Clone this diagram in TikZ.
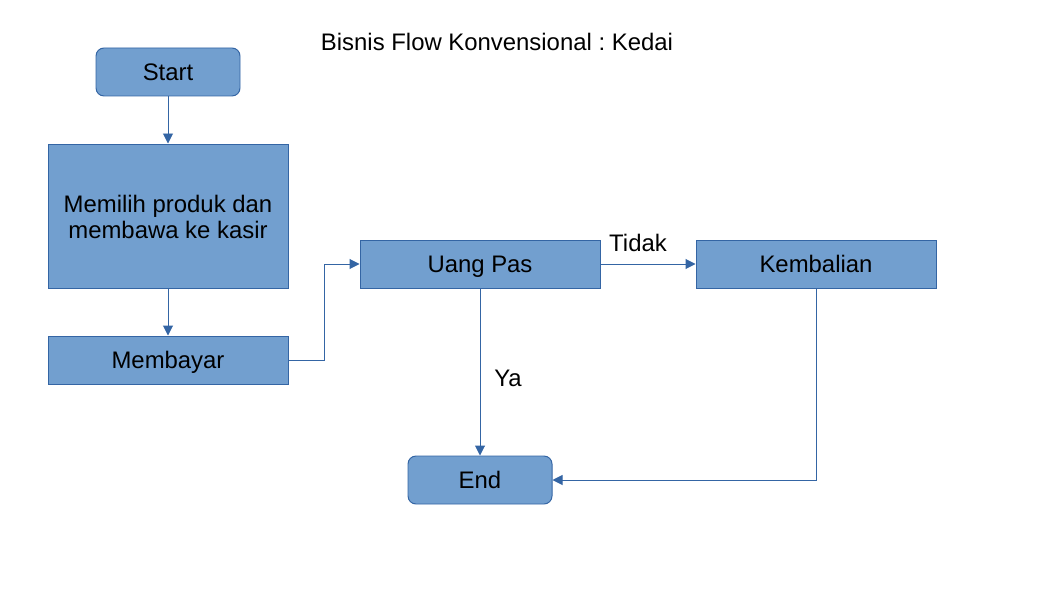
\documentclass[tikz,border=0pt]{standalone}
\usepackage{fontspec}
\setmainfont{Liberation Sans}
\usetikzlibrary{positioning}
\usetikzlibrary{arrows.meta}
\definecolor{kotak}{RGB}{114,159,207}
\definecolor{garis}{RGB}{52,101,164}
\frenchspacing

\begin{document}
\begin{tikzpicture}[
    font=\fontsize{17}{18.5}\selectfont,
    proses/.style={draw=garis, fill=kotak, line width=0.7pt, inner sep=0pt,
                   minimum width=6cm, minimum height=1.2cm, align=center,
                   text height=14pt, text depth=2.6pt},
    terminal/.style={proses, rounded corners=0.2cm, minimum width=3.6cm},
    alur/.style={draw=garis, line width=0.7pt, -{Triangle[length=0.25cm,width=0.25cm]}}
  ]

%---------------------------------------
% Canvas
%---------------------------------------
\useasboundingbox (0,0) rectangle (26.45,-14.875);

\node (judul) at (12.425,-1.05) {Bisnis Flow Konvensional : Kedai};

%---------------------------------------
% Boxes
%---------------------------------------
\node[terminal] (start)   at (4.2,-1.8)  {Start};
\node[proses, minimum height=3.6cm, text height=34pt] (pilih) at (4.2,-5.4)
      {Memilih produk dan\\membawa ke kasir};
\node[proses]   (bayar)   at (4.2,-9.0)  {Membayar};
\node[proses]   (uang)    at (12,-6.6)   {Uang Pas};
\node[proses]   (kembali) at (20.4,-6.6) {Kembalian};
\node[terminal] (selesai) at (12,-12)    {End};

% Bend point
\coordinate (tekuk) at (8.1,-9.0);

%---------------------------------------
% Arrows
%---------------------------------------
\draw[alur] (start) -- (pilih);
\draw[alur] (pilih) -- (bayar);
\draw[alur] (bayar.east) -- (tekuk) |- (uang.west);
\draw[alur] (uang) -- (kembali);
\draw[alur] (uang) -- (selesai);
\draw[alur] (kembali.south) |- (selesai.east);

% Labels
\node (tidak) at (15.95,-6.075) {Tidak};
\node (ya)    at (12.7,-9.45)   {Ya};

\end{tikzpicture}
\end{document}
